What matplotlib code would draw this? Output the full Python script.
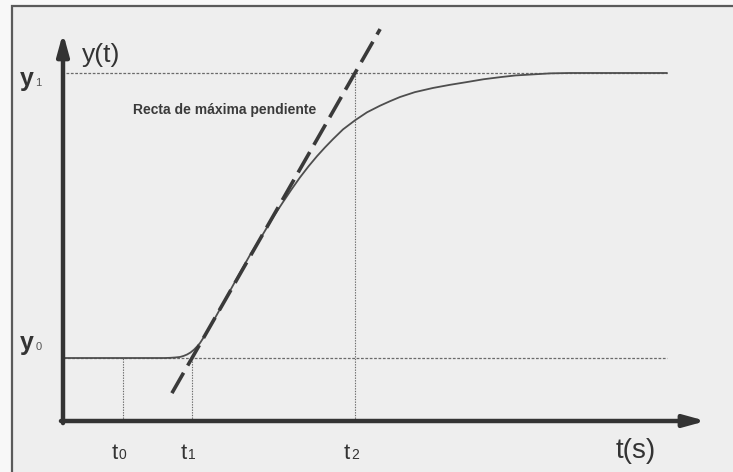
import matplotlib
matplotlib.use("Agg")
import matplotlib.pyplot as plt
from matplotlib.patches import Rectangle
import numpy as np

# ---- data ----
t_curve = [0.0, 3.49, 3.664, 3.84, 4.007, 4.13, 4.247, 4.37, 4.486, 4.59, 4.692,
           4.86, 5.034, 5.38, 5.719, 6.06, 6.404, 6.849, 7.19, 7.534, 7.83,
           8.116, 8.41, 8.699, 8.97, 9.247, 9.59, 10.0, 10.41, 10.856, 11.2,
           11.541, 12.05, 12.671, 13.25, 13.836, 14.4, 14.966, 15.5, 16.096,
           16.7, 17.363, 20.685]
y_curve = [0.181, 0.181, 0.1815, 0.1825, 0.184, 0.187, 0.191, 0.197, 0.205, 0.214,
           0.224, 0.246, 0.270, 0.322, 0.374, 0.426, 0.477, 0.537, 0.585, 0.629,
           0.666, 0.700, 0.732, 0.761, 0.786, 0.810, 0.838, 0.864, 0.887, 0.906,
           0.919, 0.931, 0.945, 0.957, 0.966, 0.974, 0.982, 0.988, 0.993, 0.996,
           0.999, 1.0, 1.0]
y0, y1 = 0.181, 1.0
t0, t1, t2 = 2.055, 4.418, 10.0
t_tangent_ends = [3.73, 10.86]
t_end = 20.685           # end of the dotted reference lines
t_axis_end = 22.02       # tip of the time axis arrow
y_axis_end = 1.115       # tip of the y axis arrow
tick_names = ["t", "t", "t"]
tick_subs = ["0", "1", "2"]
tick_pos = [t0, t1, t2]

plt.rcParams['font.family'] = ['Liberation Sans', 'DejaVu Sans']

W, H = 733, 472
fig = plt.figure(figsize=(W / 100, H / 100), dpi=100)
fig.patch.set_facecolor('#f8f8f8')

ax = fig.add_axes([0, 0, 1, 1])
ax.axis('off')
ax.patch.set_alpha(0)
ox, oy, sx, sy = 63, 421, 29.2, 348
ax.set_xlim(-ox / sx, (W - ox) / sx)
ax.set_ylim(-(H - oy) / sy, oy / sy)

# scanned page frame (behind everything in the axes)
ax.add_artist(Rectangle((12 / W, -0.05), 1.2, (H - 6) / H + 0.05,
                        transform=fig.transFigure, facecolor='#eeeeee',
                        edgecolor='#5a5a5a', lw=1.6, zorder=-10, clip_on=False))

dot_c = '#6a6a6a'
# dotted reference lines
ax.plot([0.1, t_end], [y1, y1], color=dot_c, lw=0.9, ls=(0, (2.2, 1.3)))
ax.plot([0, t_end], [y0, y0], color=dot_c, lw=0.9, ls=(0, (2.2, 1.3)))
for tp, top in [(t0, y0), (t1, y0), (t2, y1)]:
    ax.plot([tp, tp], [0, top], color=dot_c, lw=0.8, ls=(0, (1.2, 1.2)))

# response curve
ax.plot(t_curve, y_curve, color='#4e4e4e', lw=1.3, solid_capstyle='round',
        solid_joinstyle='round')

# maximum slope line
slope = (y1 - y0) / (t2 - t1)
tt = np.array(t_tangent_ends)
ax.plot(tt, y0 + slope * (tt - t1), color='#3a3a3a', lw=2.6,
        ls=(0, (6.5, 2.3)), dash_capstyle='butt')

# axes with arrows
arrow_style = '-|>,head_length=0.8,head_width=0.22'
ax.annotate('', xy=(0, y_axis_end), xytext=(0, -0.006),
            arrowprops=dict(arrowstyle=arrow_style, lw=3.2, color='#333333',
                            mutation_scale=16, shrinkA=0, shrinkB=0))
ax.annotate('', xy=(t_axis_end, 0), xytext=(-0.07, 0),
            arrowprops=dict(arrowstyle=arrow_style, lw=3.2, color='#333333',
                            mutation_scale=16, shrinkA=0, shrinkB=0))

txt_c = '#333333'
# axis titles
ax.text(0.65, 1.052, 'y(t)', fontsize=19, color=txt_c, ha='left', va='center')
ax.text(18.94, -0.106, 't(s)', fontsize=20, color=txt_c, ha='left', va='baseline')
ax.text(2.40, 0.894, 'Recta de máxima pendiente', fontsize=10, fontweight='bold',
        color='#3a3a3a', ha='left', va='center')

# y level labels
for yl, sub, dy in [(y1, '1', -9), (y0, '0', 6)]:
    ax.annotate('y', xy=(0, yl), xytext=(-21, dy), textcoords='offset points',
                fontsize=18, fontweight='bold', color=txt_c, ha='right', va='baseline')
    ax.annotate(sub, xy=(0, yl), xytext=(-20, dy), textcoords='offset points',
                fontsize=8, color='#555555', ha='left', va='baseline')

# time tick labels
for tp, nm, sb in zip(tick_pos, tick_names, tick_subs):
    ax.annotate(nm, xy=(tp, 0), xytext=(-3.5, -27.5), textcoords='offset points',
                fontsize=16, color=txt_c, ha='right', va='baseline')
    ax.annotate(sb, xy=(tp, 0), xytext=(-3.0, -27.5), textcoords='offset points',
                fontsize=10, color=txt_c, ha='left', va='baseline')

fig.savefig('out.png', dpi=100, facecolor=fig.get_facecolor())
